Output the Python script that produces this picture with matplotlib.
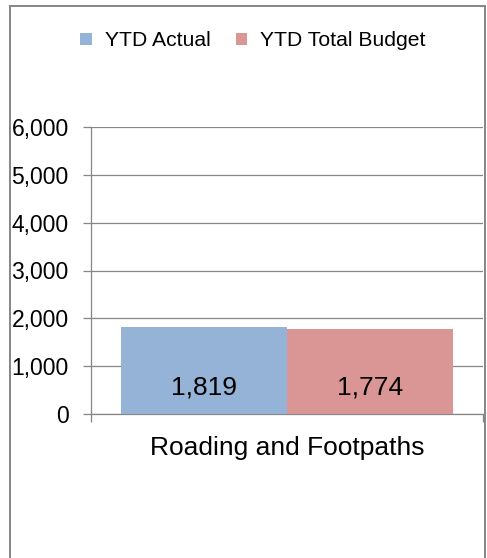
import matplotlib.pyplot as plt
from matplotlib.patches import Rectangle
from matplotlib.ticker import FuncFormatter

plt.rcParams['font.family'] = ['Liberation Sans', 'DejaVu Sans']

categories = ['Roading and Footpaths']
series_names = ['YTD Actual', 'YTD Total Budget']
actual = [1819]
budget = [1774]
colors = ['#95B3D7', '#D99694']
grid_color = '#868686'

fig = plt.figure(figsize=(4.87, 5.58), dpi=100)
ax = fig.add_axes([91 / 487, 144 / 558, 392 / 487, 287 / 558])

width = 0.4235
xs = range(len(categories))
bars1 = ax.bar([x - width / 2 for x in xs], actual, width, color=colors[0], label=series_names[0], zorder=3)
bars2 = ax.bar([x + width / 2 for x in xs], budget, width, color=colors[1], label=series_names[1], zorder=3)

# value labels sitting near the base of each bar
for bars, vals in ((bars1, actual), (bars2, budget)):
    for b, v in zip(bars, vals):
        ax.annotate(f'{v:,}', xy=(b.get_x() + b.get_width() / 2, 0), xytext=(0, 19),
                    textcoords='offset points', ha='center', va='center', fontsize=19, zorder=4)

ax.set_xlim(-0.5, len(categories) - 0.5)
ax.set_ylim(0, 6000)
ax.set_yticks(range(0, 6001, 1000))
ax.yaxis.set_major_formatter(FuncFormatter(lambda v, p: f'{int(v):,}'))
ax.grid(axis='y', color=grid_color, linewidth=0.9, zorder=0)

ax.set_xticks(list(xs))
ax.set_xticklabels(categories, fontsize=19)
ax.set_xticks([-0.5 + i for i in range(len(categories) + 1)], minor=True)
ax.tick_params(axis='x', which='major', length=0, pad=16)
ax.tick_params(axis='x', which='minor', length=6, color=grid_color, width=0.9)
ax.tick_params(axis='y', length=6, color=grid_color, width=0.9, labelsize=16.5, pad=10)

for s in ('top', 'right'):
    ax.spines[s].set_visible(False)
for s in ('left', 'bottom'):
    ax.spines[s].set_color(grid_color)
    ax.spines[s].set_linewidth(0.9)

fig.legend(handles=[bars1, bars2], labels=series_names, loc='center', bbox_to_anchor=(253 / 487, 1 - 41 / 558),
           ncol=2, frameon=False, fontsize=15.2, handlelength=0.55, handleheight=0.55,
           handletextpad=0.6, columnspacing=1.2)

fig.patches.append(Rectangle((9.5 / 487, -0.05), 475 / 487, 1.05 - 6.5 / 558, transform=fig.transFigure,
                             fill=False, edgecolor=grid_color, linewidth=1.4))

fig.savefig('out.png', dpi=100)
